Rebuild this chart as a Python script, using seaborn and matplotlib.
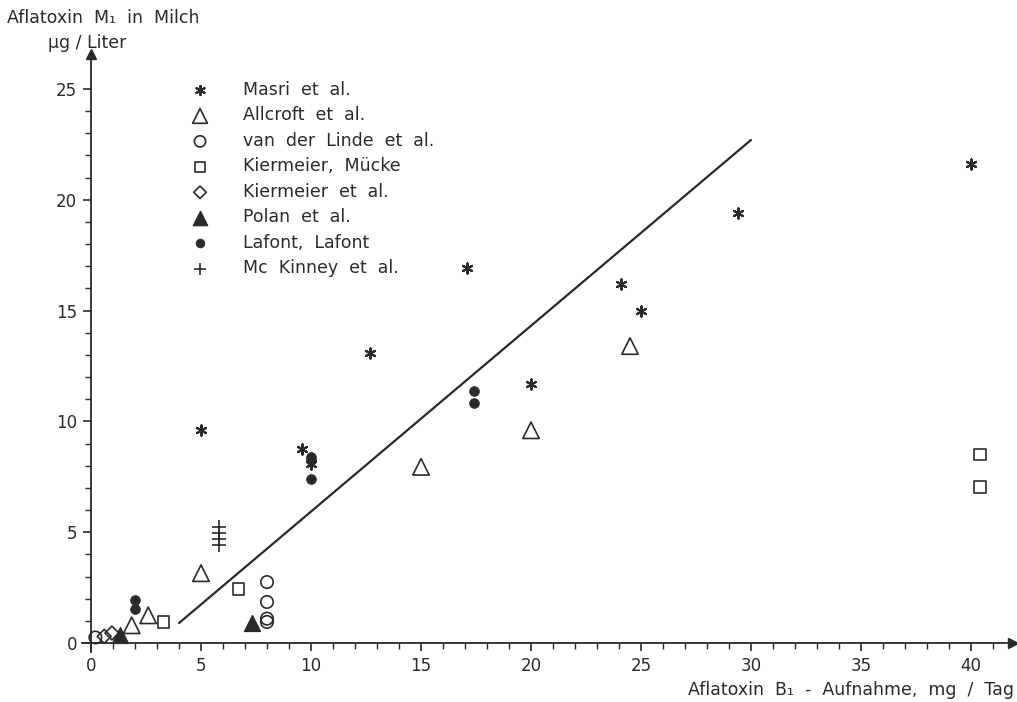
import matplotlib
matplotlib.use("Agg")
import matplotlib.pyplot as plt
import seaborn as sns
import pandas as pd
import numpy as np

# ---------------- data ----------------
masri_x = [5.0, 9.6, 10.0, 12.7, 17.1, 20.0, 24.1, 25.0, 29.4, 40.0]
masri_y = [9.6, 8.75, 8.1, 13.1, 16.9, 11.7, 16.2, 15.0, 19.4, 21.6]

allcroft_x = [1.85, 2.6, 5.0, 15.0, 20.0, 24.5]
allcroft_y = [0.8, 1.25, 3.15, 7.95, 9.6, 13.4]

linde_x = [0.2, 8.0, 8.0, 8.0, 8.0]
linde_y = [0.25, 2.75, 1.85, 1.1, 0.95]

kmuecke_x = [3.3, 6.7, 40.4, 40.4]
kmuecke_y = [0.95, 2.45, 8.5, 7.05]

kiermeier_x = [0.6, 0.95]
kiermeier_y = [0.3, 0.45]

polan_x = [1.3, 7.3]
polan_y = [0.35, 0.9]

lafont_x = [2.0, 2.0, 10.0, 10.0, 10.0, 17.4, 17.4]
lafont_y = [1.92, 1.52, 8.4, 8.25, 7.4, 11.35, 10.85]

mckinney_x = [5.8, 5.8, 5.8, 5.8]
mckinney_y = [5.25, 4.97, 4.68, 4.4]

line_x = [4.0, 30.0]
line_y = [0.9, 22.7]

studies = ["Masri et al.", "Allcroft et al.", "van der Linde et al.",
           "Kiermeier, Mücke", "Kiermeier et al.", "Polan et al.",
           "Lafont, Lafont", "Mc Kinney et al."]

x_ticks = [0, 5, 10, 15, 20, 25, 30, 35, 40]
y_ticks = [0, 5, 10, 15, 20, 25]

ylabel_1 = "Aflatoxin M\u2081 in Milch"
ylabel_2 = "\u00b5g / Liter"
xlabel = "Aflatoxin B\u2081 - Aufnahme, mg / Tag"


def spaced(s):
    return "  ".join(s.split(" "))


# ---------------- figure ----------------
sns.set_theme(style="white")
plt.rcParams['font.family'] = ['DejaVu Sans']

INK = "#2a2a2a"
fig = plt.figure(figsize=(10.17, 7.02), dpi=100)
fig.patch.set_facecolor("white")

xmin, xmax = -0.4, 41.9
ymin, ymax = -0.4, 26.6
left_px, right_px = 91 + xmin * 22.0, 91 + xmax * 22.0
bot_px, top_px = 643 - ymin * 22.16, 643 - ymax * 22.16
ax = fig.add_axes([left_px / 1017, (702 - bot_px) / 702,
                   (right_px - left_px) / 1017, (bot_px - top_px) / 702])
ax.set_facecolor("white")

series = [
    (masri_x, masri_y, dict(marker=(6, 2, 0), s=55, color=INK, linewidth=1.5)),
    (allcroft_x, allcroft_y, dict(marker="^", s=140, facecolor="none", edgecolor=INK, linewidth=1.2)),
    (linde_x, linde_y, dict(marker="o", s=80, facecolor="none", edgecolor=INK, linewidth=1.2)),
    (kmuecke_x, kmuecke_y, dict(marker="s", s=70, facecolor="none", edgecolor=INK, linewidth=1.2)),
    (kiermeier_x, kiermeier_y, dict(marker="D", s=50, facecolor="none", edgecolor=INK, linewidth=1.2)),
    (polan_x, polan_y, dict(marker="^", s=130, color=INK, edgecolor=INK, linewidth=1.0)),
    (lafont_x, lafont_y, dict(marker="o", s=50, color=INK, edgecolor=INK, linewidth=0.5)),
    (mckinney_x, mckinney_y, dict(marker="+", s=90, color=INK, linewidth=1.2)),
]

for name, (xs, ys, kw) in zip(studies, series):
    df = pd.DataFrame({"x": xs, "y": ys})
    sns.scatterplot(data=df, x="x", y="y", ax=ax, label=spaced(name), zorder=3,
                    clip_on=False, **kw)

sns.lineplot(x=line_x, y=line_y, ax=ax, color=INK, linewidth=1.6, zorder=2)

ax.set_xlim(xmin, xmax)
ax.set_ylim(ymin, ymax)

# axes as arrows through origin
for side in ["top", "right"]:
    ax.spines[side].set_visible(False)
ax.spines["left"].set_position(("data", 0))
ax.spines["bottom"].set_position(("data", 0))
for side in ["left", "bottom"]:
    ax.spines[side].set_color(INK)
    ax.spines[side].set_linewidth(1.3)
ax.plot(1, 0, marker=">", color=INK, markersize=7, transform=ax.get_yaxis_transform(), clip_on=False)
ax.plot(0, 1, marker="^", color=INK, markersize=7, transform=ax.get_xaxis_transform(), clip_on=False)

ax.set_xticks(x_ticks)
ax.set_yticks(y_ticks)
ax.set_xticks(np.arange(0, 42, 1), minor=True)
ax.set_yticks(np.arange(0, 26, 1), minor=True)
ax.tick_params(axis="both", which="major", direction="out", length=6, width=1.2,
               color=INK, labelsize=12, labelcolor=INK, pad=4)
ax.tick_params(axis="both", which="minor", direction="out", length=4, width=1.0, color=INK)
ax.tick_params(left=True, bottom=True, which="both")
ax.set_xlabel("")
ax.set_ylabel("")

fig.text(7 / 1017, 1 - 18 / 702, spaced(ylabel_1), fontsize=12.5, color=INK, ha="left", va="center")
fig.text(48 / 1017, 1 - 43 / 702, ylabel_2, fontsize=12.5, color=INK, ha="left", va="center")
fig.text(1014 / 1017, 1 - 690 / 702, spaced(xlabel), fontsize=12.5, color=INK, ha="right", va="center")

leg = ax.legend(loc="upper left", bbox_to_anchor=(187 / 1017, 1 - 81 / 702),
                bbox_transform=fig.transFigure, frameon=False, fontsize=12.5,
                handlelength=1.5, handletextpad=1.7, labelspacing=0.43,
                borderpad=0, borderaxespad=0, markerscale=0.9)
for t in leg.get_texts():
    t.set_color(INK)

fig.savefig("out.png", dpi=100, facecolor="white")
